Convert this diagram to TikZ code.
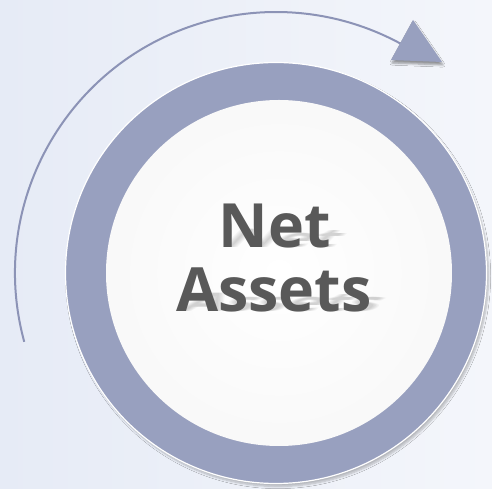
\documentclass[tikz,border=0pt]{standalone}
\usepackage{fontspec}
\setmainfont{Open Sans}
\usepackage{tikz}
\usetikzlibrary{calc,shadows.blur}
\definecolor{ringblue}{RGB}{152,160,191}
\definecolor{arcblue}{RGB}{140,147,182}
\definecolor{textgray}{RGB}{89,89,89}
\definecolor{bgleft}{RGB}{230,235,246}
\definecolor{bgright}{RGB}{244,246,251}
\newcommand{\wordfont}{\fontsize{61}{64}\selectfont\bfseries}

\begin{document}
\begin{tikzpicture}[x=1pt,y=1pt,
	ring/.style={circle,fill=ringblue,draw=white,line width=1.2pt,inner sep=0pt,minimum size=421pt,
		blur shadow={shadow xshift=2pt,shadow yshift=-3pt,shadow opacity=25,shadow blur steps=6}},
	core/.style={circle,inner sep=0pt,minimum size=346pt,inner color=white,outer color=gray!5},
	word/.style={anchor=base,text=textgray,font=\wordfont},
	ghost/.style={anchor=base,text=black,text opacity=0.035,font=\wordfont,yscale=0.42,xslant=0.4,transform shape},
	arcline/.style={draw=arcblue,line width=2pt},
	tip/.style={fill=ringblue,blur shadow={shadow xshift=1pt,shadow yshift=-3pt,shadow opacity=40,shadow blur steps=5}}]
	%\draw[step=50,gray,very thin] (0,0) grid (492,489);
	\useasboundingbox (0,0) rectangle (492,489);
	\shade[left color=bgleft,right color=bgright] (0,0) rectangle (492,489);
	\node[ring] (ring) at (276,216) {};
	\node[core] (core) at (279,216) {};
	\foreach \s in {-3,-1.5,0,1.5,3} {
		\node[ghost] at (277+\s,241) {Net};
		\node[ghost] at (276+\s,177) {Assets};
	}
	\node[word] (net) at (275,241) {Net};
	\node[word] (assets) at (274,177) {Assets};
	\coordinate (tail) at ($(ring.center)+(195.3:261)$);
	\draw[arcline] (tail) arc[start angle=195.3,end angle=61,radius=261] coordinate (head);
	\fill[tip] (391,429) -- (413,469) -- (442,427) -- cycle;
\end{tikzpicture}
\end{document}
